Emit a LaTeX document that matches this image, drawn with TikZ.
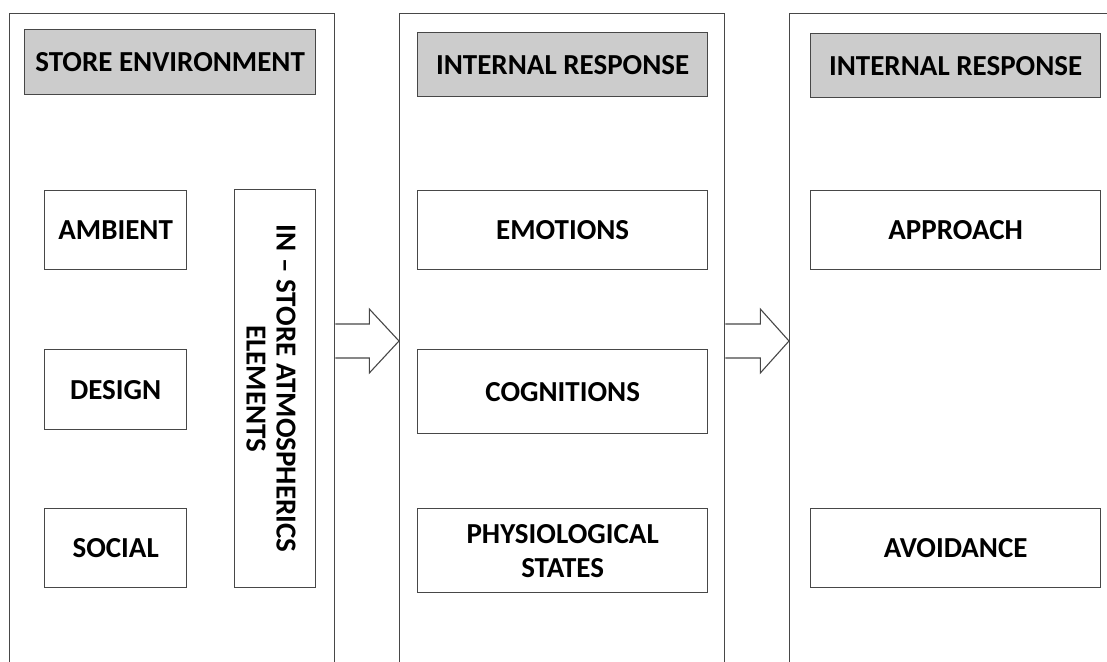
\documentclass[tikz,border=0pt]{standalone}
\usepackage{fontspec}
\setmainfont{Carlito}
\usetikzlibrary{calc}
\begin{document}
\begin{tikzpicture}[x=1pt,y=-1pt,
  line width=1.3pt,
  every node/.style={draw=black!72, line width=1.3pt, inner sep=0pt,
    font=\fontsize{29}{34}\selectfont\bfseries, align=center, anchor=north west},
  panel/.style={fill=white, minimum width=#1, minimum height=720pt},
  head/.style={fill=black!20, minimum height=65pt, minimum width=#1},
  item/.style={fill=white, minimum width=#1},
  blockarrow/.style={draw=black!72, fill=white, line width=1.1pt, line join=miter}
]
\useasboundingbox (0,0) rectangle (1107,661);
\clip (0,0) rectangle (1107,661);

% three stage panels, open towards the bottom edge
\node[panel=325pt] (p1) at (9,13) {};
\node[panel=325pt] (p2) at (399,13) {};
\node[panel=340pt] (p3) at (789,13) {};

% stage headings
\node[head=291pt] (h1) at (24,29) {STORE ENVIRONMENT};
\node[head=290pt, minimum height=64pt] (h2) at (417,32) {INTERNAL RESPONSE};
\node[head=290pt, minimum height=64pt] (h3) at (810,33) {INTERNAL RESPONSE};

% store environment factors
\node[item=142pt, minimum height=79pt] (amb) at (44,190) {AMBIENT};
\node[item=142pt, minimum height=80pt] (des) at (44,349) {DESIGN};
\node[item=142pt, minimum height=79pt] (soc) at (44,508) {SOCIAL};
\node[minimum width=81pt, minimum height=398pt] (atm) at (234,189) {};
\node[draw=none, anchor=center, rotate=-90] (atmtxt) at ($(atm.center)+(-4,0)$)
  {IN -- STORE ATMOSPHERICS\\[-4pt]ELEMENTS};

% internal responses
\node[item=290pt, minimum height=79pt] (emo) at (417,190) {EMOTIONS};
\node[item=290pt, minimum height=84pt] (cog) at (417,349) {COGNITIONS};
\node[item=290pt, minimum height=84pt] (phy) at (417,508) {PHYSIOLOGICAL\\STATES};

% behavioural responses
\node[item=290pt, minimum height=79pt] (app) at (810,190) {APPROACH};
\node[item=290pt, minimum height=79pt] (avo) at (810,508) {AVOIDANCE};

% block arrows linking the panels
\coordinate (a1) at ($(p1.north east)+(0,328)$);
\coordinate (a2) at ($(p2.north east)+(0,328)$);
\draw[blockarrow] (a1) ++(0,-17) -- ++(34,0) -- ++(0,-15) -- ($(p2.north west)+(0,328)$)
  -- ($(a1)+(34,32)$) -- ++(0,-15) -- ++(-34,0);
\draw[blockarrow] (a2) ++(0,-17) -- ++(35,0) -- ++(0,-15) -- ($(p3.north west)+(0,328)$)
  -- ($(a2)+(35,32)$) -- ++(0,-15) -- ++(-35,0);
\end{tikzpicture}
\end{document}
